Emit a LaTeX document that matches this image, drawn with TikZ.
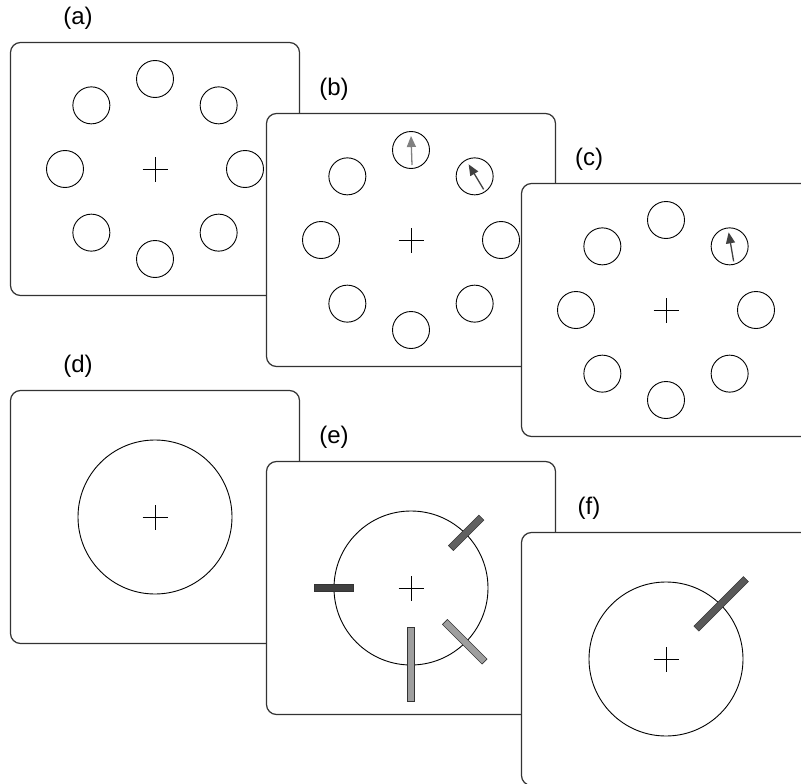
\documentclass[tikz,border=0pt]{standalone}
\usepackage{fontspec}
\setmainfont{Liberation Sans}
\usetikzlibrary{arrows.meta}

\newcommand{\fixcross}[1]{%
  \draw[line width=0.9pt] ([xshift=-12.5pt]#1.center) -- ([xshift=12.5pt]#1.center)
    ([yshift=-12.5pt]#1.center) -- ([yshift=12.5pt]#1.center);}

\begin{document}
\begin{tikzpicture}[x=1pt,y=1pt,
    panel/.style={draw=black!80, line width=1.2pt, fill=white, rounded corners=10pt,
      minimum width=289pt, minimum height=253pt, inner sep=0pt},
    spot/.style={draw, circle, minimum size=37pt, inner sep=0pt, line width=0.9pt},
    ring/.style={draw, circle, minimum size=154pt, inner sep=0pt, line width=0.9pt},
    tag/.style={font=\fontsize{24}{24}\selectfont},
    pointer/.style={line width=1.3pt, -{Triangle[length=11pt,width=9pt]}},
    bar/.style={draw=black!80, line width=0.6pt, inner sep=0pt, minimum height=7pt}]
  \useasboundingbox (0,0) rectangle (801,-784);
  \clip (0,0) rectangle (801,-784);

  % Top row: ring of targets
  \foreach \p/\x/\y/\t in {pa/155/-169/a, pb/411/-240/b, pc/666/-310/c}{
    \node[panel] (\p) at (\x,\y) {};
    \node[tag] (l\p) at ([shift={(-77,151)}]\p.center) {(\t)};
    \fixcross{\p}
    \foreach \k in {0,...,7}
      \node[spot] (\p-\k) at ([shift={(\k*45:90)}]\p.center) {};
  }

  % Cues
  \draw[pointer, black!50] ([shift={(1,-15)}]pb-2.center) -- ([shift={(0,14)}]pb-2.center);
  \draw[pointer, black!75] ([shift={(9,-13)}]pb-1.center) -- ([shift={(-6,12)}]pb-1.center);
  \draw[pointer, black!75] ([shift={(4,-15)}]pc-1.center) -- ([shift={(-1,14)}]pc-1.center);

  % Bottom row: circle and bars
  \foreach \p/\x/\y/\t in {pd/155/-517/d, pe/411/-588/e, pf/666/-659/f}{
    \node[panel] (\p) at (\x,\y) {};
    \node[tag] (l\p) at ([shift={(-77,151)}]\p.center) {(\t)};
    \node[ring] (\p-r) at (\p.center) {};
    \fixcross{\p}
  }

  \node[bar, fill=black!75, minimum width=39pt] (pe-b1) at ([shift={(180:77)}]pe.center) {};
  \node[bar, fill=black!62, minimum width=43pt, rotate=45] (pe-b2) at ([shift={(45:78)}]pe.center) {};
  \node[bar, fill=black!38, minimum width=56pt, rotate=-45] (pe-b3) at ([shift={(-45:76)}]pe.center) {};
  \node[bar, fill=black!38, minimum width=74pt, rotate=90] (pe-b4) at ([shift={(-90:76)}]pe.center) {};
  \node[bar, fill=black!65, minimum width=70pt, rotate=45] (pf-b1) at ([shift={(45:78)}]pf.center) {};
\end{tikzpicture}
\end{document}
